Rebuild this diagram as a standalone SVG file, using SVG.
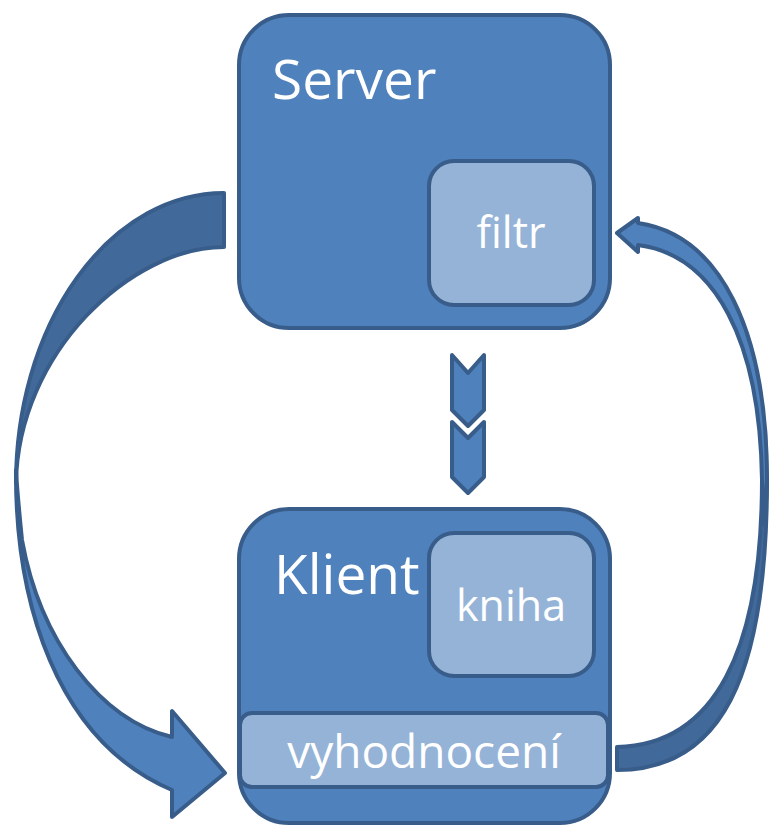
<svg xmlns="http://www.w3.org/2000/svg" width="770" height="829" viewBox="0 0 770 829">
<style>
.box{fill:#4f81bd;stroke:#385d8a;stroke-width:4}
.inner{fill:#95b3d7;stroke:#385d8a;stroke-width:4}
.front{fill:#4f81bd;stroke:#385d8a;stroke-width:4;stroke-linejoin:round}
.back{fill:#41699a;stroke:#385d8a;stroke-width:4;stroke-linejoin:round}
.title{font-family:"Open Sans","Liberation Sans",sans-serif;font-size:55px;fill:#ffffff}
.label{font-family:"Open Sans","Liberation Sans",sans-serif;font-size:43px;fill:#ffffff;text-anchor:middle}
</style>
<rect width="770" height="829" fill="#ffffff"/>
<g id="connectors">
  <!-- left curved arrow: Server -> Klient -->
  <path class="back" d="M224,193 A208 290 0 0 0 16,483 C18,353 131,247 224,247 Z"/>
  <path class="front" d="M16,470 C15,600 55,740 172,790 L172,817 L225,773 L172,711 L172,737 C100,720 40,640 22,540 C19,510 17,490 16,470 Z"/>
  <!-- right curved arrow: vyhodnocení -> filtr -->
  <path class="back" d="M617,770 C720,770 767,680 767,480 L765,430 L762,480 C762,650 715,745 617,747 Z"/>
  <path class="front" d="M765,525 L767,480 C767,330 720,235 638,223 L638,218 L617,233 L638,252 L638,245 C715,255 760,340 762,480 Z"/>
  <!-- chevrons -->
  <path class="front" d="M452,355 L468,373 L484,355 L484,410 L468,426 L452,410 Z"/>
  <path class="front" d="M452,422 L468,438 L484,422 L484,477 L468,493 L452,477 Z"/>
</g>
<g id="server">
  <rect class="box" x="239" y="15" width="371" height="313" rx="50"/>
  <text class="title" x="272" y="99">Server</text>
</g>
<g id="filtr">
  <rect class="inner" x="429" y="161" width="165" height="144" rx="25"/>
  <text class="label" x="511" y="248">filtr</text>
</g>
<g id="klient">
  <rect class="box" x="239" y="509" width="371" height="314" rx="50"/>
  <text class="title" x="274" y="594">Klient</text>
</g>
<g id="kniha">
  <rect class="inner" x="429" y="533" width="165" height="143" rx="25"/>
  <text class="label" x="511" y="621">kniha</text>
</g>
<g id="vyhodnoceni">
  <rect class="inner" x="240" y="713" width="368" height="74" rx="12"/>
  <text class="label" x="424" y="768" style="font-size:46px">vyhodnocení</text>
</g>
</svg>
